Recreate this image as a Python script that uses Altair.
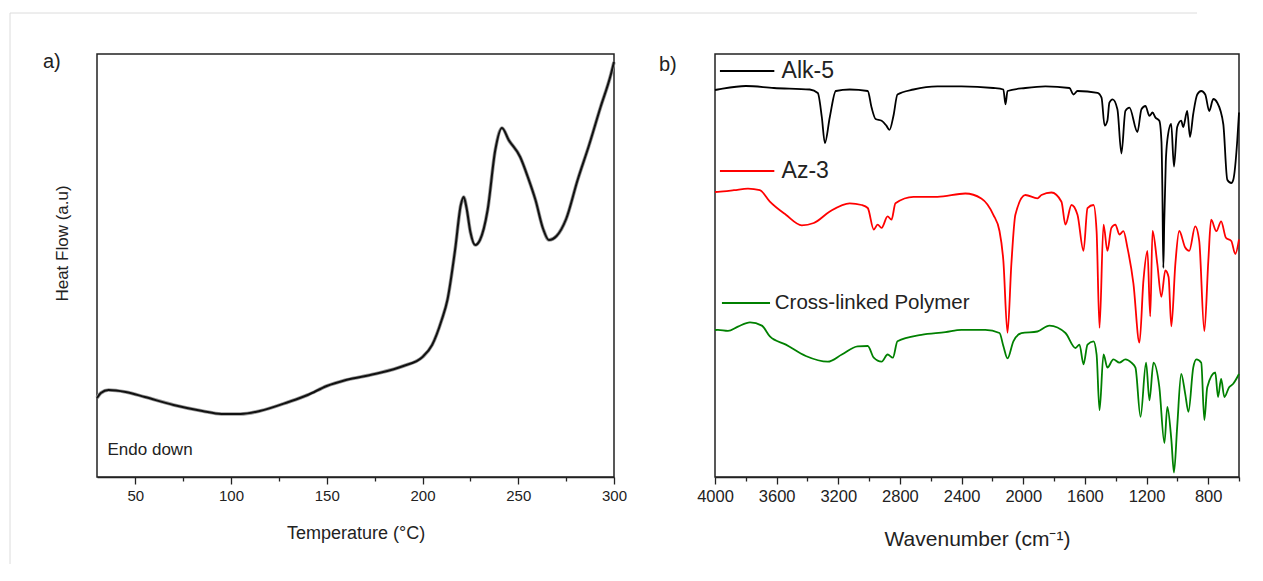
import altair as alt
import pandas as pd

# ---------------- a) DSC ----------------
dsc_temp = [30, 32, 36, 45, 55, 70, 85, 95, 105, 115, 130, 140, 150, 160, 175, 190,
            200, 205, 210, 213, 217, 220, 221.5, 223, 225, 227.5, 230, 234, 238, 241.5,
            245, 251, 255, 259, 263, 266, 270, 275, 281, 287, 293, 298, 300]
dsc_heat = [79, 84, 87, 85, 80, 72, 66, 63, 63, 66, 75, 82, 91, 97, 103, 111,
            120, 132, 157, 177, 227, 272, 280, 269, 245, 232, 237, 267, 327, 349,
            337, 320, 300, 277, 248, 237, 241, 258, 297, 332, 370, 400, 415]

# ---------------- b) FTIR ----------------
alk_wn = [4000, 3981, 3800, 3618, 3385, 3333, 3307, 3287, 3255, 3216, 3126, 3009, 2984, 2958,
          2919, 2888, 2868, 2842, 2816, 2712, 2557, 2401, 2194, 2129, 2115, 2102, 1986, 1856,
          1700, 1674, 1648, 1518, 1492, 1472, 1454, 1441, 1420, 1389, 1363, 1337, 1311, 1259,
          1233, 1207, 1181, 1161, 1143, 1117, 1103, 1097, 1091, 1085, 1075, 1065, 1040, 1022,
          1001, 975, 962, 936, 918, 897, 871, 845, 819, 793, 767, 741, 702, 676, 650, 637, 611, 600]
alk_t = [387, 387.5, 391, 389, 387.5, 384, 360, 334, 360, 386, 387.5, 386, 369.4, 358,
         356.3, 351.4, 347.1, 361.2, 382.5, 387.5, 390.7, 390.7, 389, 387.5, 372.7, 386, 389, 390.7,
         389, 382.5, 386, 384.2, 379.3, 351.4, 356.3, 374.3, 377.6, 367.8, 323.5, 366.1, 369.4, 345,
         367.8, 371, 361.2, 364.5, 359.6, 356.3, 335, 285, 209, 255, 315, 337, 353, 310.4,
         350, 356.3, 350, 366, 340, 363, 382.5, 386, 382.5, 366, 378, 374.3, 353, 297.3, 294, 297.3, 337, 364.5]

az_wn = [4000, 3981, 3877, 3786, 3709, 3644, 3540, 3437, 3359, 3255, 3126, 3048, 3009, 2970,
         2945, 2919, 2880, 2855, 2829, 2712, 2557, 2376, 2272, 2194, 2154, 2129, 2102, 2077,
         2051, 1986, 1908, 1882, 1817, 1752, 1726, 1687, 1648, 1609, 1583, 1544, 1524, 1505,
         1479, 1454, 1428, 1402, 1376, 1350, 1324, 1285, 1246, 1220, 1194, 1176, 1161, 1130,
         1104, 1078, 1057, 1039, 1013, 988, 949, 923, 884, 858, 825, 799, 781, 747, 716, 685,
         650, 624, 600]
az_t = [285, 285.2, 286.8, 288.4, 286.8, 275.3, 262.2, 251.7, 254, 265.5, 273.7, 272, 269, 247.5,
        252.4, 249.1, 260.6, 257.3, 273.7, 280.2, 280.2, 283.5, 278.6, 262.2, 246, 216.3, 144.2, 213,
        262.2, 282, 278.6, 282, 284.5, 275.3, 252.4, 272, 262.2, 226.1, 268.8, 272, 245.8, 149.1,
        252.4, 226.1, 249.1, 252.4, 242.5, 245.8, 229.4, 193.4, 134.3, 196.6, 226.1, 160.6, 246, 213,
        180.2, 206.5, 200, 150.7, 213, 246, 229.4, 226.1, 250.7, 236, 145.8, 216.3, 257.3, 245.8, 255.7, 239.3,
        236, 223, 237.6]

cl_wn = [4000, 3981, 3916, 3851, 3773, 3696, 3644, 3540, 3411, 3268, 3177, 3074, 3009, 2970,
         2919, 2880, 2846, 2816, 2661, 2505, 2401, 2246, 2154, 2129, 2102, 2064, 2012, 1908,
         1830, 1726, 1661, 1635, 1609, 1583, 1544, 1524, 1505, 1479, 1454, 1415, 1376, 1337,
         1298, 1272, 1239, 1203, 1181, 1155, 1117, 1084, 1065, 1039, 1022, 1001, 975, 949,
         928, 897, 876, 845, 825, 806, 754, 736, 716, 695, 664, 639, 600]
cl_t = [147, 147.1, 146.1, 150.4, 154.7, 151.4, 140.6, 132.4, 121, 115.3, 122.5, 130.7, 131, 119.3,
        115.3, 122.5, 119.3, 135.7, 142.2, 144.8, 147.1, 147.1, 144, 131, 118.6, 135.7, 143.9, 145.5,
        151.4, 144, 129, 132.4, 112.7, 132.4, 135.7, 122.5, 66.8, 122.5, 109.4, 117.6, 114.3, 117.6,
        114.3, 109.4, 60.2, 114.3, 76.6, 114.3, 90, 34, 70, 37.3, 4.5, 50.4, 103, 83.2,
        65.2, 109.4, 117.6, 114.3, 57, 89.8, 104.5, 80, 98, 80, 89.8, 93, 103]

series_names = ["Alk-5", "Az-3", "Cross-linked Polymer"]
series_colors = ["#000000", "#ff0000", "#008000"]

leg_line_wn = [3968, 3615]
leg_line_cl_wn = [3955, 3643]
leg_y = [406, 306, 174]
leg_text_wn = [3568, 3568, 3612]

FONT = "Liberation Sans"
INK = "#222222"

dsc_df = pd.DataFrame({"T": dsc_temp, "H": dsc_heat})
ftir_df = pd.concat([
    pd.DataFrame({"wn": alk_wn, "t": alk_t, "s": series_names[0]}),
    pd.DataFrame({"wn": az_wn, "t": az_t, "s": series_names[1]}),
    pd.DataFrame({"wn": cl_wn, "t": cl_t, "s": series_names[2]}),
], ignore_index=True)

color_scale = alt.Scale(domain=series_names, range=series_colors)

# ---------- left panel ----------
x_left = alt.X("T:Q", scale=alt.Scale(domain=[30, 300], nice=False, zero=False),
               axis=alt.Axis(values=list(range(50, 301, 25)), format="d",
                             labelExpr="datum.value % 50 == 0 ? datum.label : ''",
                             labelOverlap=False,
                             labelFlush=False, labelFont=FONT, labelFontSize=15, labelColor=INK,
                             labelPadding=4,
                             tickColor=INK, tickWidth=1.3,
                             tickSize={"condition": {"test": "datum.value % 50 == 0", "value": 7}, "value": 4},
                             domainColor=INK, domainWidth=1.5, grid=False,
                             title="Temperature (°C)", titleFont=FONT, titleFontSize=18,
                             titleFontWeight="normal", titleColor=INK, titlePadding=21))
y_left = alt.Y("H:Q", scale=alt.Scale(domain=[0, 423], nice=False, zero=False),
               axis=alt.Axis(labels=False, ticks=False, domain=False, grid=False,
                             title="Heat Flow (a.u)", titleFont=FONT, titleFontSize=17,
                             titleFontWeight="normal", titleColor=INK, titlePadding=26,
                             titleY=189))

dsc_halo = alt.Chart(dsc_df).mark_line(color="#9a9a9a", strokeWidth=3.6, interpolate="monotone").encode(
    x=x_left, y=y_left)
dsc_line = alt.Chart(dsc_df).mark_line(color="#111111", strokeWidth=2.0, interpolate="monotone").encode(
    x=x_left, y=y_left)

endo = alt.Chart(pd.DataFrame({"T": [35.5], "H": [27], "txt": ["Endo down"]})).mark_text(
    align="left", baseline="middle", font=FONT, fontSize=17, color=INK).encode(
    x=x_left, y=y_left, text="txt:N")

label_a = alt.Chart(pd.DataFrame({"txt": ["a)"]})).mark_text(
    align="left", baseline="middle", font=FONT, fontSize=20, color=INK).encode(
    x=alt.value(-54), y=alt.value(8), text="txt:N")

border_top = alt.Chart(pd.DataFrame({"k": [0]})).mark_rule(color="#dcdcdc", strokeWidth=1).encode(
    x=alt.value(-87), x2=alt.value(1100), y=alt.value(-41))
border_left = alt.Chart(pd.DataFrame({"k": [0]})).mark_rule(color="#dcdcdc", strokeWidth=1).encode(
    x=alt.value(-87), y=alt.value(-41), y2=alt.value(510))

left = alt.layer(border_top, border_left, dsc_halo, dsc_line, endo, label_a).properties(
    width=517, height=423)

# ---------- right panel ----------
x_right = alt.X("wn:Q", scale=alt.Scale(domain=[600, 4000], reverse=True, nice=False, zero=False),
                axis=alt.Axis(values=list(range(600, 4001, 200)), format="d",
                              labelExpr="datum.value % 400 == 0 ? datum.label : ''",
                              labelOverlap=False,
                              labelFlush=False, labelFont=FONT, labelFontSize=16.5, labelColor=INK,
                              labelPadding=4,
                              tickColor=INK, tickWidth=1.3,
                              tickSize={"condition": {"test": "datum.value % 400 == 0", "value": 7}, "value": 4},
                              domainColor=INK, domainWidth=1.5, grid=False,
                              title="Wavenumber (cm⁻¹)", titleFont=FONT, titleFontSize=21,
                              titleFontWeight="normal", titleColor=INK, titlePadding=24))
y_right = alt.Y("t:Q", scale=alt.Scale(domain=[0, 423], nice=False, zero=False), axis=None)

spectra = alt.Chart(ftir_df).mark_line(strokeWidth=1.8, interpolate="monotone").encode(
    x=x_right, y=y_right,
    color=alt.Color("s:N", scale=color_scale, legend=None),
    detail="s:N")

leg_lines = pd.DataFrame({
    "wn": leg_line_wn + leg_line_wn + leg_line_cl_wn,
    "t": [leg_y[0], leg_y[0], leg_y[1], leg_y[1], leg_y[2], leg_y[2]],
    "s": [series_names[0], series_names[0], series_names[1], series_names[1], series_names[2], series_names[2]],
})
leg_line_marks = alt.Chart(leg_lines).mark_line(strokeWidth=1.8).encode(
    x=x_right, y=y_right,
    color=alt.Color("s:N", scale=color_scale, legend=None), detail="s:N")

leg_text = pd.DataFrame({"wn": leg_text_wn, "t": leg_y, "txt": series_names})
leg_text_big = alt.Chart(leg_text.iloc[:2]).mark_text(
    align="left", baseline="middle", font=FONT, fontSize=23, color=INK).encode(
    x=x_right, y=y_right, text="txt:N")
leg_text_small = alt.Chart(leg_text.iloc[2:]).mark_text(
    align="left", baseline="middle", font=FONT, fontSize=20.5, color=INK).encode(
    x=x_right, y=y_right, text="txt:N")

label_b = alt.Chart(pd.DataFrame({"txt": ["b)"]})).mark_text(
    align="left", baseline="middle", font=FONT, fontSize=20, color=INK).encode(
    x=alt.value(-56), y=alt.value(11), text="txt:N")

right = alt.layer(spectra, leg_line_marks, leg_text_big, leg_text_small, label_b).properties(
    width=524, height=423)

chart = alt.hconcat(left, right, spacing=101, bounds="flush").properties(
    padding={"left": 0, "top": 3, "right": 0, "bottom": 0}
).configure(background="white").configure_view(stroke=INK, strokeWidth=1.5)

chart.save("out.html", embed_options={"renderer": "svg", "actions": False})
